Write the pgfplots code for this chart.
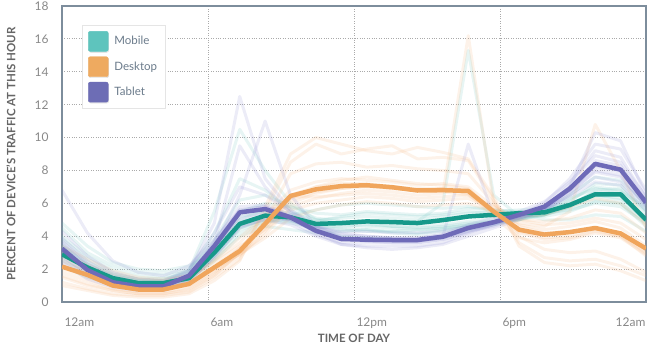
\documentclass[border=0pt]{standalone}
\usepackage{fontspec}
\setmainfont{Lato}
\usepackage{pgfplots}
\usepackage{pgfplotstable}
\pgfplotsset{compat=1.18}
\usetikzlibrary{shadows}

\definecolor{mob}{HTML}{16998A}
\definecolor{desk}{HTML}{F0A55C}
\definecolor{tab}{HTML}{6E6AB8}
\definecolor{legM}{HTML}{5EC4BD}
\definecolor{legD}{HTML}{EEAA60}
\definecolor{legT}{HTML}{6D6DB5}
\definecolor{fM}{RGB}{110,195,190}
\definecolor{fD}{RGB}{245,180,125}
\definecolor{fT}{RGB}{140,140,210}
\definecolor{frame}{HTML}{7D8D9C}
\definecolor{gridc}{HTML}{AAAAAA}
\definecolor{tickc}{HTML}{888888}
\definecolor{labc}{HTML}{666666}
\definecolor{legtext}{HTML}{6B7B8B}

% main series (24 points across the day)
\pgfplotstableread{
i mobile desktop tablet
0 2.9 2.15 3.25
1 2.1 1.65 1.95
2 1.45 1.0 1.2
3 1.15 0.76 0.95
4 1.15 0.76 0.95
5 1.45 1.1 1.6
6 3.0 2.1 3.4
7 4.75 3.1 5.45
8 5.25 4.75 5.65
9 5.15 6.45 5.15
10 4.75 6.85 4.33
11 4.8 7.05 3.83
12 4.9 7.1 3.79
13 4.86 6.98 3.77
14 4.8 6.78 3.77
15 4.98 6.8 3.97
16 5.2 6.75 4.5
17 5.3 5.5 4.85
18 5.4 4.4 5.3
19 5.45 4.1 5.8
20 5.9 4.25 6.9
21 6.55 4.5 8.4
22 6.55 4.17 8.05
23 5.0 3.25 6.05
}\maintab

% faint individual traces, one per row
\pgfplotstableread{
name h0 h1 h2 h3 h4 h5 h6 h7 h8 h9 h10 h11 h12 h13 h14 h15 h16 h17 h18 h19 h20 h21 h22 h23
m1 3.8 2.6 1.8 1.4 1.3 1.7 3.2 5.0 5.6 5.4 5.0 5.1 5.2 5.1 5.0 5.2 5.4 5.5 5.6 5.7 6.0 6.5 6.3 5.2
m2 2.5 1.8 1.2 1.0 1.0 1.3 2.8 4.4 4.9 4.8 4.5 4.6 4.7 4.6 4.6 4.7 4.9 5.1 5.2 5.3 5.8 6.8 6.9 5.5
m3 4.5 3.0 2.2 1.8 1.7 2.0 3.5 5.5 6.0 5.8 5.4 5.3 5.5 5.4 5.3 5.4 5.7 5.6 5.5 5.4 5.6 6.0 5.8 4.8
m4 2.2 1.5 1.1 0.9 0.9 1.2 2.5 4.0 4.6 4.4 4.2 4.3 4.4 4.3 4.4 4.5 4.7 4.9 5.0 5.3 6.1 7.2 7.1 5.6
m5 3.5 2.4 1.7 1.4 1.4 1.8 3.8 6.2 6.5 5.8 5.1 4.9 4.8 4.6 4.5 4.6 4.8 4.9 5.1 5.3 5.9 6.7 6.6 5.1
m6 3.1 2.0 1.5 1.2 1.2 1.5 2.9 4.6 5.0 5.0 4.9 5.2 5.4 5.3 5.2 5.3 5.5 5.4 5.3 5.2 5.5 6.1 6.0 4.6
m7 4.0 2.8 2.0 1.6 1.5 1.9 4.2 7.5 6.8 5.6 4.8 4.5 4.4 4.2 4.1 4.3 4.6 4.8 5.0 5.4 6.2 7.0 6.8 5.4
m8 2.7 1.9 1.3 1.1 1.1 1.5 3.3 5.2 5.5 5.2 4.6 4.4 4.3 4.3 4.2 4.4 4.6 4.8 5.1 5.6 6.5 7.6 7.4 5.9
m9 3.3 2.2 1.6 1.3 1.2 1.4 2.6 4.2 4.8 5.3 5.6 5.9 6.0 5.9 5.8 5.7 5.8 5.6 5.4 5.0 5.0 5.3 5.2 4.3
m10 4.8 3.4 2.4 2.0 1.9 2.2 3.0 4.8 5.3 5.0 4.4 4.0 3.9 3.8 3.8 4.0 4.4 4.7 5.0 5.5 6.3 6.9 6.7 5.8
m11 3.0 2.0 1.4 1.2 1.1 1.4 2.8 4.5 5.0 4.9 4.7 4.8 4.9 4.8 4.9 6.0 15.3 6.5 5.2 5.3 5.7 6.2 6.0 4.9
m12 3.4 2.3 1.6 1.3 1.3 1.9 5.5 10.5 8.0 6.0 5.0 4.7 4.6 4.5 4.4 4.5 4.7 4.9 5.0 5.3 5.8 6.4 6.2 5.0
}\rawM
\pgfplotstabletranspose[colnames from=name]\tabM\rawM

\pgfplotstableread{
name h0 h1 h2 h3 h4 h5 h6 h7 h8 h9 h10 h11 h12 h13 h14 h15 h16 h17 h18 h19 h20 h21 h22 h23
d1 2.6 1.9 1.3 1.0 1.0 1.4 2.5 3.6 5.2 6.8 7.3 7.5 7.4 7.3 7.1 7.2 7.0 5.8 4.6 4.2 4.3 4.5 4.1 3.1
d2 1.8 1.3 0.8 0.6 0.6 0.9 1.8 2.8 4.3 6.2 6.7 6.9 7.0 6.9 6.8 6.9 6.8 5.4 4.2 3.8 3.9 4.3 4.0 3.0
d3 1.2 0.8 0.5 0.4 0.4 0.6 1.5 2.6 5.0 7.8 8.4 8.5 8.2 8.3 8.1 8.0 7.8 6.0 4.0 3.2 3.0 3.1 2.6 1.8
d4 3.0 2.3 1.7 1.4 1.3 1.6 2.4 3.4 4.4 5.6 6.0 6.2 6.4 6.3 6.1 6.2 6.3 5.6 5.0 4.9 5.1 5.6 5.4 4.2
d5 2.0 1.5 1.0 0.8 0.8 1.1 2.2 3.2 4.9 6.5 7.0 7.2 7.2 7.0 6.9 6.9 6.6 5.2 3.9 3.6 3.8 4.2 3.9 2.9
d6 1.5 1.0 0.7 0.5 0.5 0.8 1.7 3.0 5.5 8.5 9.6 9.0 9.3 9.5 8.7 8.8 8.6 6.2 3.6 2.7 2.5 2.6 2.2 1.6
d7 2.4 1.8 1.2 0.9 0.9 1.2 2.0 2.9 4.1 5.8 6.3 6.6 6.8 6.7 6.5 6.6 16.2 6.0 4.7 4.4 4.6 4.9 4.5 3.4
d8 3.4 2.6 1.9 1.5 1.4 1.6 2.1 2.9 3.9 5.1 5.6 5.9 6.1 6.0 5.8 5.9 6.0 5.5 5.2 5.3 5.8 6.3 6.0 4.7
d9 1.0 0.7 0.4 0.3 0.3 0.5 1.3 2.5 5.8 9.0 10.0 9.6 9.2 9.0 9.4 9.1 8.7 6.4 3.4 2.4 2.2 2.3 1.9 1.3
d10 2.2 1.6 1.1 0.9 0.8 1.0 1.9 3.3 4.6 6.0 6.6 6.9 7.1 6.9 6.8 6.7 6.5 5.5 4.8 4.6 5.5 10.8 8.0 4.5
d11 1.6 1.1 0.7 0.5 0.5 0.7 1.6 3.0 4.5 6.3 7.0 7.4 7.6 7.4 7.2 7.1 6.9 5.5 4.3 3.9 4.0 4.4 4.0 2.8
d12 2.8 2.1 1.5 1.2 1.1 1.4 2.6 3.9 5.3 6.4 6.4 6.5 6.6 6.5 6.3 6.4 6.5 5.8 5.0 4.7 4.8 5.1 4.8 3.8
}\rawD
\pgfplotstabletranspose[colnames from=name]\tabD\rawD

\pgfplotstableread{
name h0 h1 h2 h3 h4 h5 h6 h7 h8 h9 h10 h11 h12 h13 h14 h15 h16 h17 h18 h19 h20 h21 h22 h23
t1 3.6 2.2 1.4 1.1 1.1 1.8 3.7 5.8 5.9 5.3 4.5 4.0 3.9 3.9 3.9 4.1 4.7 5.1 5.5 6.1 7.3 8.9 8.5 6.4
t2 2.8 1.7 1.0 0.8 0.8 1.4 3.0 5.0 5.3 4.9 4.1 3.6 3.6 3.6 3.6 3.8 4.3 4.6 5.1 5.5 6.6 8.0 7.7 5.8
t3 4.3 2.8 1.8 1.4 1.3 2.0 4.2 7.0 6.5 5.5 4.6 4.1 4.0 3.9 3.9 4.1 4.5 4.8 5.2 5.6 6.5 7.6 7.3 5.9
t4 2.4 1.4 0.9 0.7 0.7 1.2 2.8 4.6 5.0 4.7 4.0 3.5 3.4 3.4 3.4 3.6 4.2 4.7 5.3 6.0 7.5 9.6 9.3 6.8
t5 3.9 2.5 1.6 1.2 1.2 1.9 4.8 12.5 7.5 5.6 4.6 4.2 4.0 3.9 3.8 4.0 4.5 4.8 5.2 5.7 6.7 7.9 7.6 5.9
t6 6.8 4.2 2.5 1.8 1.6 2.2 3.8 5.6 5.8 5.2 4.4 3.9 3.8 3.8 3.8 4.0 9.6 5.2 5.4 5.8 6.8 8.2 7.9 6.2
t7 3.0 1.9 1.2 0.9 0.9 1.5 3.2 5.2 5.4 5.0 4.3 3.8 3.7 3.7 3.7 3.9 4.4 4.8 5.2 5.8 7.0 10.3 9.8 6.5
t8 3.4 2.0 1.3 1.0 1.0 1.6 3.6 9.5 7.0 5.4 4.4 3.9 3.7 3.6 3.6 3.8 4.2 4.7 5.2 5.7 6.8 8.3 8.0 6.0
t9 2.6 1.6 1.0 0.8 0.8 1.3 2.7 4.5 5.1 5.0 4.6 4.3 4.3 4.2 4.2 4.3 4.6 4.9 5.2 5.6 6.4 7.3 7.1 5.6
t10 3.7 2.3 1.5 1.2 1.1 1.7 3.5 5.6 5.8 5.2 4.2 3.5 3.3 3.2 3.3 3.5 4.0 4.5 5.0 5.7 7.2 9.2 8.8 6.3
t11 3.2 2.0 1.3 1.0 1.0 1.6 3.4 6.5 11.0 6.5 4.6 3.9 3.8 3.7 3.7 3.9 4.3 4.7 5.1 5.6 6.9 8.6 8.3 6.1
}\rawT
\pgfplotstabletranspose[colnames from=name]\tabT\rawT

\begin{document}
\begin{tikzpicture}
\path[use as bounding box] (-62pt,-45pt) rectangle (588pt,302pt);
\begin{axis}[
  scale only axis, width=584pt, height=296pt,
  xmin=0, xmax=23, ymin=0, ymax=18,
  ytick={0,2,...,18},
  xtick={0,5.75,11.5,17.25},
  xticklabels={12am,6am,12pm,6pm},
  extra x ticks={23},
  extra x tick labels={12am},
  extra x tick style={grid=none, xticklabel style={anchor=north east, xshift=4pt}},
  xticklabel style={anchor=north west, xshift=-1pt, yshift=-12pt},
  yticklabel style={xshift=-10pt},
  tick style={draw=none},
  major tick length=0pt,
  ticklabel style={font=\fontsize{12}{13}\selectfont, text=tickc},
  /pgf/number format/assume math mode=true,
  grid=major,
  major grid style={gridc, dotted, line width=0.9pt},
  axis line style={frame, line width=1.3pt},
  ylabel={PERCENT OF DEVICE'S TRAFFIC AT THIS HOUR},
  xlabel={TIME OF DAY},
  label style={font=\bfseries\fontsize{11.5}{12}\selectfont, text=labc},
  ylabel style={at={(axis description cs:0,0.5)}, anchor=center, yshift=51pt},
  xlabel style={yshift=1pt},
  legend style={at={(0.034,0.936)}, anchor=north west, draw=black!10, fill=white,
    font=\fontsize{11.5}{13}\selectfont, text=legtext, row sep=5pt,
    inner xsep=6pt, inner ysep=6pt, drop shadow={opacity=0.12, shadow xshift=0.5pt, shadow yshift=-1pt},
    legend cell align=left,
    /tikz/every odd column/.append style={column sep=4pt}},
  every axis plot/.append style={line join=round},
]
\pgfplotsinvokeforeach{m1,m2,m3,m4,m5,m6,m7,m8,m9,m10,m11,m12}{
  \addplot[fM, line width=3pt, opacity=0.17, forget plot] table[x expr=\coordindex, y=#1]{\tabM};
}
\pgfplotsinvokeforeach{d1,d2,d3,d4,d5,d6,d7,d8,d9,d10,d11,d12}{
  \addplot[fD, line width=3pt, opacity=0.17, forget plot] table[x expr=\coordindex, y=#1]{\tabD};
}
\pgfplotsinvokeforeach{t1,t2,t3,t4,t5,t6,t7,t8,t9,t10,t11}{
  \addplot[fT, line width=3pt, opacity=0.17, forget plot] table[x expr=\coordindex, y=#1]{\tabT};
}
\addplot[mob, line width=4.5pt, forget plot] table[x=i, y=mobile]{\maintab};
\addplot[tab, line width=4.5pt, forget plot] table[x=i, y=tablet]{\maintab};
\addplot[desk, line width=4.5pt, forget plot] table[x=i, y=desktop]{\maintab};

\addlegendimage{legend image code/.code={\fill[legM, rounded corners=2pt] (0pt,-10pt) rectangle (20pt,10pt);}}
\addlegendentry{Mobile\hspace{8pt}}
\addlegendimage{legend image code/.code={\fill[legD, rounded corners=2pt] (0pt,-10pt) rectangle (20pt,10pt);}}
\addlegendentry{Desktop\hspace{8pt}}
\addlegendimage{legend image code/.code={\fill[legT, rounded corners=2pt] (0pt,-10pt) rectangle (20pt,10pt);}}
\addlegendentry{Tablet\hspace{8pt}}
\end{axis}
\end{tikzpicture}
\end{document}
